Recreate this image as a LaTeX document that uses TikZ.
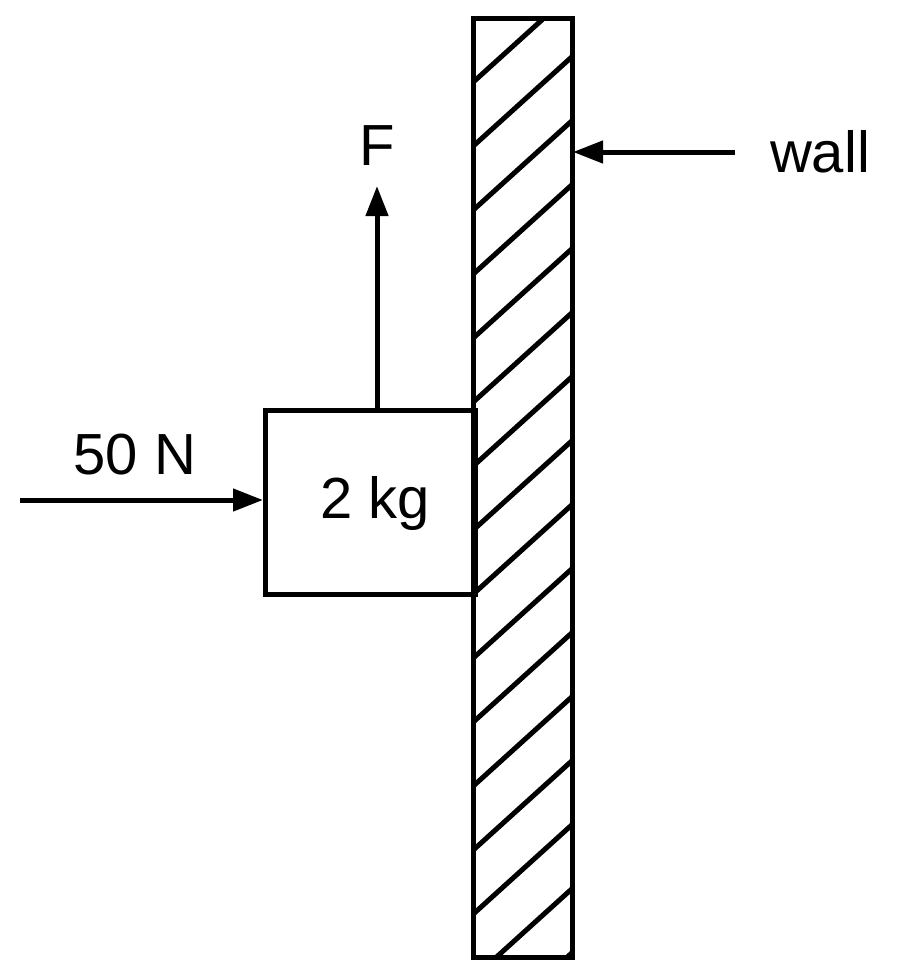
\documentclass[tikz,border=0pt]{standalone}
\usepackage{fontspec}
\setmainfont{Liberation Sans}
\usetikzlibrary{arrows.meta}
\begin{document}
\begin{tikzpicture}[x=1pt,y=-1pt,line width=5pt,
  arr/.style={-{Triangle[length=30pt,width=28pt,angle'=40]}},
  lbl/.style={font=\fontsize{58}{60}\selectfont,inner sep=0pt}]
\useasboundingbox (0,0) rectangle (900,978);
\begin{scope}
\clip (473,18) rectangle (572,957);
\foreach \k in {0,...,15} {
  \draw (470,{82+64*\k+3}) -- (575,{82+64*\k-92});
}
\end{scope}
\draw (473,18) rectangle (572,957);
\node[draw,minimum width=210pt,minimum height=184pt,anchor=north west,inner sep=0pt] (blk) at (263,408) {};
\node[lbl] (m) at (375,503) {2 kg};
\coordinate (ftail) at (377,408);
\coordinate (fhead) at (377,186);
\draw[arr] (ftail) -- (fhead);
\node[lbl] (F) at (377,146) {F};
\coordinate (ntail) at (20,500);
\draw[arr] (ntail) -- (blk.west |- ntail);
\node[lbl] (n) at (135,455) {50 N};
\coordinate (wtail) at (735,152);
\coordinate (whead) at (573,152);
\draw[arr] (wtail) -- (whead);
\node[lbl] (w) at (820,152) {wall};
\end{tikzpicture}
\end{document}
